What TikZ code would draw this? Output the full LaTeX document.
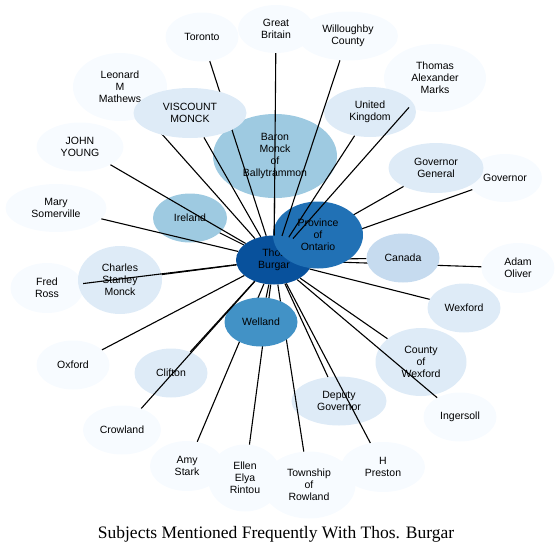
\documentclass[tikz,border=0pt]{standalone}
\usepackage{fontspec}
\setmainfont{Liberation Serif}
\newfontfamily\labelfont{Liberation Sans}
\usetikzlibrary{shapes.geometric}

\definecolor{blueA}{HTML}{F7FBFF}
\definecolor{blueB}{HTML}{DEEBF7}
\definecolor{blueC}{HTML}{C6DBEF}
\definecolor{blueD}{HTML}{9ECAE1}
\definecolor{blueF}{HTML}{4292C6}
\definecolor{blueG}{HTML}{2171B5}
\definecolor{blueH}{HTML}{08519C}

\pgfdeclarelayer{mid}
\pgfdeclarelayer{top}
\pgfsetlayers{main,mid,top}

\tikzset{
  subject/.style={ellipse, fill=#1, inner sep=0pt, align=center,
    font=\labelfont\fontsize{10.5}{12}\selectfont},
  subject/.default=blueA,
  link/.style={line width=1.1pt}
}

\begin{document}
\begin{tikzpicture}[x=1pt,y=-1pt]
\useasboundingbox (0,0) rectangle (560,555);

\node[subject=blueH, minimum width=76, minimum height=49] (thos) at (274,260) {Thos\\Burgar};
\node[subject=blueD, minimum width=124, minimum height=84] (baron) at (275,156) {Baron\\Monck\\of\\Ballytrammon};
\node[subject=blueD, minimum width=74, minimum height=49] (ireland) at (190,218) {Ireland};

\node[subject, minimum width=73, minimum height=49] (toronto) at (202,37) {Toronto};
\node[subject, minimum width=76, minimum height=48] (britain) at (276,29) {Great\\Britain};
\node[subject, minimum width=100, minimum height=49] (willoughby) at (348,36) {Willoughby\\County};
\node[subject, minimum width=102, minimum height=68] (marks) at (435,78) {Thomas\\Alexander\\Marks};
\node[subject, minimum width=94, minimum height=68] (leonard) at (120,87) {Leonard\\M\\Mathews};
\node[subject, minimum width=87, minimum height=49] (johnyoung) at (80,147) {JOHN\\YOUNG};
\node[subject, minimum width=101, minimum height=48] (mary) at (56,208) {Mary\\Somerville};
\node[subject, minimum width=74, minimum height=48] (governor) at (505,178) {Governor};
\node[subject, minimum width=73, minimum height=50] (adam) at (518,268) {Adam\\Oliver};
\node[subject, minimum width=73, minimum height=50] (fredross) at (47,288) {Fred\\Ross};
\node[subject, minimum width=73, minimum height=49] (oxford) at (73,365) {Oxford};
\node[subject, minimum width=78, minimum height=49] (crowland) at (122,430) {Crowland};
\node[subject, minimum width=74, minimum height=50] (amystark) at (187,466) {Amy\\Stark};
\node[subject, minimum width=93, minimum height=67] (rowland) at (309,485) {Township\\of\\Rowland};
\node[subject, minimum width=74, minimum height=67] (ellen) at (245,478) {Ellen\\Elya\\Rintou};
\node[subject, minimum width=84, minimum height=50] (preston) at (383,467) {H\\Preston};
\node[subject, minimum width=73, minimum height=49] (ingersoll) at (460,417) {Ingersoll};

\node[subject=blueB, minimum width=92, minimum height=50] (kingdom) at (370,112) {United\\Kingdom};
\node[subject=blueB, minimum width=95, minimum height=50] (govgeneral) at (436,168) {Governor\\General};
\node[subject=blueB, minimum width=84, minimum height=68] (charles) at (120,280) {Charles\\Stanley\\Monck};
\node[subject=blueB, minimum width=73, minimum height=49] (clifton) at (171,373) {Clifton};
\node[subject=blueB, minimum width=73, minimum height=49] (wexford) at (464,308) {Wexford};
\node[subject=blueB, minimum width=91, minimum height=68] (county) at (421,362) {County\\of\\Wexford};
\node[subject=blueB, minimum width=95, minimum height=49] (deputy) at (339,401) {Deputy\\Governor};

% these four sit over the edges that pass beneath them
\begin{pgfonlayer}{mid}
\node[subject=blueB, minimum width=113, minimum height=50] (viscount) at (190,113) {VISCOUNT\\MONCK};
\node[subject=blueG, minimum width=90, minimum height=67] (ontario) at (318,235) {Province\\of\\Ontario};
\node[subject=blueC, minimum width=73, minimum height=49] (canada) at (403,258) {Canada};
\node[subject=blueF, minimum width=73, minimum height=49] (welland) at (261,322) {Welland};
\end{pgfonlayer}

\foreach \to in {toronto, leonard, govgeneral, governor, adam, canada, amystark, ellen, rowland}
	\draw[link] (thos) -- (\to);

\begin{pgfonlayer}{top}
\foreach \to in {britain, willoughby, marks, kingdom, baron, viscount, johnyoung, mary, ireland, charles, fredross, oxford, clifton, crowland, welland, deputy, preston, county, ingersoll, wexford}
	\draw[link] (thos) -- (\to);
\end{pgfonlayer}

\node[anchor=base, font=\fontsize{17.5}{20}\selectfont] (title) at (276,538) {Subjects Mentioned Frequently With Thos. Burgar};

\end{tikzpicture}
\end{document}
